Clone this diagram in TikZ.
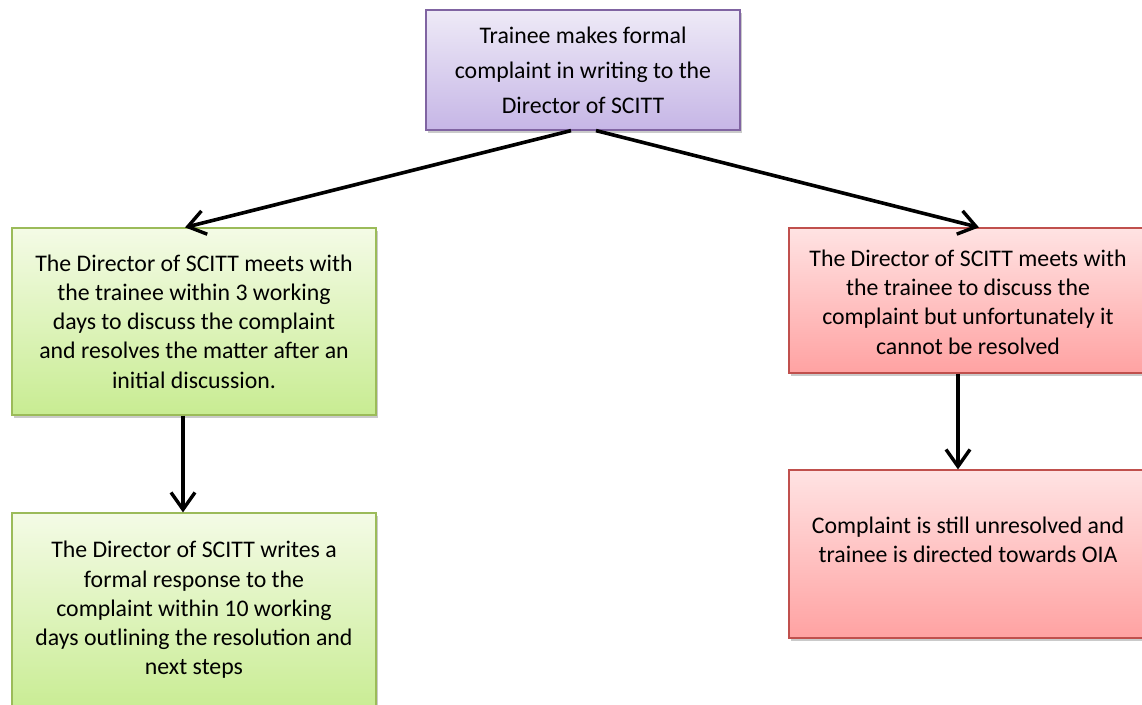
\documentclass[tikz,border=0pt]{standalone}
\usepackage{fontspec}
\setmainfont{Carlito}
\usetikzlibrary{arrows.meta,shadows}
\begin{document}
\begin{tikzpicture}[x=1pt,y=-1pt,
  box/.style={draw, line width=1.2pt, rectangle, inner sep=0pt, align=center,
    drop shadow={shadow xshift=2pt, shadow yshift=-3pt, opacity=0.35, fill=black!60}},
  purplebox/.style={box, draw=purpleE, top color=purpleT, bottom color=purpleB},
  greenbox/.style={box, draw=greenE, top color=greenT, bottom color=greenB},
  redbox/.style={box, draw=redE, top color=redT, bottom color=redB},
  txt/.style={font=\fontsize{23.8pt}{29.3pt}\selectfont, align=center, inner sep=0pt},
  toptxt/.style={font=\fontsize{23.8pt}{35pt}\selectfont},
  arr/.style={line width=3.6pt, -{Straight Barb[length=17pt,width=24pt,line width=3.4pt]}}
]
\definecolor{purpleE}{HTML}{8064A2}
\definecolor{purpleT}{HTML}{EEEAF7}
\definecolor{purpleB}{HTML}{C6B6E6}
\definecolor{greenE}{HTML}{9BBB59}
\definecolor{greenT}{HTML}{F4FBE6}
\definecolor{greenB}{HTML}{C8EC92}
\definecolor{redE}{HTML}{C0504D}
\definecolor{redT}{HTML}{FFE3E3}
\definecolor{redB}{HTML}{FFA2A2}
\useasboundingbox (0,0) rectangle (1142,704);

\node[purplebox, minimum width=314pt, minimum height=120pt, toptxt] (top) at (583,70)
  {Trainee makes formal\\complaint in writing to the\\Director of SCITT};

\node[greenbox, minimum width=364pt, minimum height=187pt, txt] (g1) at (194,321.5)
  {The Director of SCITT meets with\\the trainee within 3 working\\days to discuss the complaint\\and resolves the matter after an\\initial discussion.};

\node[greenbox, minimum width=364pt, minimum height=200pt] (g2) at (194,613) {};
\node[txt] (g2t) at (194,610)
  {The Director of SCITT writes a\\formal response to the\\complaint within 10 working\\days outlining the resolution and\\next steps};

\node[redbox, minimum width=361pt, minimum height=145pt] (r1) at (969.5,300.5) {};
\node[txt] (r1t) at (968,302)
  {The Director of SCITT meets with\\the trainee to discuss the\\complaint but unfortunately it\\cannot be resolved};

\node[redbox, minimum width=361pt, minimum height=168pt] (r2) at (969.5,554) {};
\node[txt] (r2t) at (968,540)
  {Complaint is still unresolved and\\trainee is directed towards OIA};

\draw[arr] ([xshift=-12pt]top.south) -- ([xshift=-9pt]g1.north);
\draw[arr] ([xshift=13pt]top.south) -- ([xshift=9.5pt]r1.north);
\draw[arr] ([xshift=-11pt]g1.south) -- ([xshift=-11pt]g2.north);
\draw[arr] ([xshift=-11.5pt]r1.south) -- ([xshift=-11.5pt]r2.north);
\end{tikzpicture}
\end{document}
